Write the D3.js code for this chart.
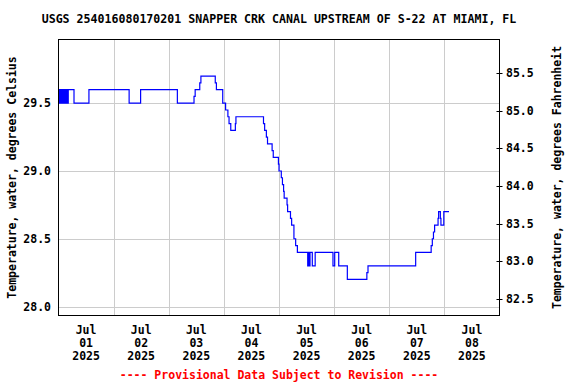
<!DOCTYPE html>
<html>
<head>
<meta charset="utf-8">
<script src="https://cdn.jsdelivr.net/npm/d3@7"></script>
<style>
  html, body { margin: 0; padding: 0; background: #ffffff; }
  svg { display: block; }
  text { font-family: "DejaVu Sans Mono", monospace; font-weight: bold; }
</style>
</head>
<body>
<svg id="chart" width="576" height="384"></svg>
<script>
// ---- Data ----
const titleText = "USGS 254016080170201 SNAPPER CRK CANAL UPSTREAM OF S-22 AT MIAMI, FL";
const leftAxisTitle = "Temperature, water, degrees Celsius";
const rightAxisTitle = "Temperature, water, degrees Fahrenheit";
const footerText = "---- Provisional Data Subject to Revision ----";

const dayLabels = ["2025-07-01", "2025-07-02", "2025-07-03", "2025-07-04",
                   "2025-07-05", "2025-07-06", "2025-07-07", "2025-07-08"];
const celsiusTicks = [28.0, 28.5, 29.0, 29.5];
const fahrenheitTicks = [82.5, 83.0, 83.5, 84.0, 84.5, 85.0, 85.5];

const times = [
  "2025-07-01 00:00","2025-07-01 00:15","2025-07-01 00:30","2025-07-01 01:00","2025-07-01 01:15",
  "2025-07-01 01:45","2025-07-01 02:00","2025-07-01 02:15","2025-07-01 02:30","2025-07-01 02:45",
  "2025-07-01 03:00","2025-07-01 03:15","2025-07-01 03:30","2025-07-01 03:45","2025-07-01 04:00",
  "2025-07-01 04:15","2025-07-01 06:45","2025-07-01 13:15","2025-07-02 06:45","2025-07-02 11:45",
  "2025-07-03 03:45","2025-07-03 11:00","2025-07-03 11:30","2025-07-03 13:30","2025-07-03 14:00",
  "2025-07-03 20:15","2025-07-03 20:45","2025-07-03 23:30","2025-07-04 00:45","2025-07-04 01:45",
  "2025-07-04 02:15","2025-07-04 03:00","2025-07-04 05:00","2025-07-04 05:15","2025-07-04 17:15",
  "2025-07-04 17:45","2025-07-04 18:30","2025-07-04 19:00","2025-07-04 21:00","2025-07-04 21:30",
  "2025-07-04 23:45","2025-07-05 00:00","2025-07-05 01:00","2025-07-05 01:30","2025-07-05 02:00",
  "2025-07-05 02:15","2025-07-05 03:30","2025-07-05 03:45","2025-07-05 05:00","2025-07-05 05:30",
  "2025-07-05 06:30","2025-07-05 07:15","2025-07-05 08:00","2025-07-05 12:30","2025-07-05 12:45",
  "2025-07-05 13:00","2025-07-05 13:30","2025-07-05 14:30","2025-07-05 15:45","2025-07-05 23:30",
  "2025-07-06 00:15","2025-07-06 02:00","2025-07-06 05:45","2025-07-06 14:15","2025-07-06 14:45",
  "2025-07-07 11:30","2025-07-07 18:15","2025-07-07 18:45","2025-07-07 19:15","2025-07-07 19:45",
  "2025-07-07 21:15","2025-07-07 21:30","2025-07-07 22:15","2025-07-07 22:30","2025-07-07 23:45",
  "2025-07-08 02:00"
];
const tempC = [
  29.5, 29.6, 29.5, 29.6, 29.5,
  29.6, 29.5, 29.6, 29.5, 29.6,
  29.5, 29.6, 29.5, 29.6, 29.5,
  29.6, 29.5, 29.6, 29.5, 29.6,
  29.5, 29.55, 29.6, 29.65, 29.7,
  29.65, 29.6, 29.5, 29.45, 29.4,
  29.35, 29.3, 29.35, 29.4, 29.35,
  29.3, 29.25, 29.2, 29.15, 29.1,
  29.05, 29.0, 28.95, 28.9, 28.85,
  28.8, 28.75, 28.7, 28.65, 28.6,
  28.5, 28.45, 28.4, 28.3, 28.4,
  28.3, 28.4, 28.3, 28.4, 28.3,
  28.4, 28.3, 28.2, 28.25, 28.3,
  28.4, 28.45, 28.5, 28.55, 28.6,
  28.65, 28.7, 28.65, 28.6, 28.7,
  28.7
];

const xDomainStart = "2025-07-01 00:00";
const xDomainEnd = "2025-07-09 00:00";
const yDomainC = [27.934, 29.97];

// ---- Drawing ----
const parseT = d3.timeParse("%Y-%m-%d %H:%M");
const parseD = d3.timeParse("%Y-%m-%d");
const fmtMon = d3.timeFormat("%b");
const fmtDay = d3.timeFormat("%d");
const fmtYear = d3.timeFormat("%Y");

const plot = { left: 58.5, right: 499.5, top: 39.5, bottom: 315.5 };
const svg = d3.select("#chart");

const x = d3.scaleTime()
  .domain([parseT(xDomainStart), parseT(xDomainEnd)])
  .range([plot.left, plot.right]);
const y = d3.scaleLinear().domain(yDomainC).range([plot.bottom, plot.top]);
const yF = d3.scaleLinear()
  .domain(yDomainC.map(c => c * 9 / 5 + 32))
  .range([plot.bottom, plot.top]);

const data = times.map((t, i) => ({ t: parseT(t), v: tempC[i] }));

// Grid lines
const gridDays = d3.timeDay.range(d3.timeDay.offset(x.domain()[0], 1), x.domain()[1]);
svg.append("g").selectAll("line").data(gridDays).join("line")
  .attr("x1", d => Math.round(x(d)) + 0.5).attr("x2", d => Math.round(x(d)) + 0.5)
  .attr("y1", plot.top).attr("y2", plot.bottom)
  .attr("stroke", "#cccccc").attr("stroke-width", 1);
svg.append("g").selectAll("line").data(celsiusTicks).join("line")
  .attr("x1", plot.left).attr("x2", plot.right)
  .attr("y1", d => Math.round(y(d)) + 0.5).attr("y2", d => Math.round(y(d)) + 0.5)
  .attr("stroke", "#cccccc").attr("stroke-width", 1);

// Data line
svg.append("clipPath").attr("id", "clip").append("rect")
  .attr("x", plot.left).attr("y", plot.top)
  .attr("width", plot.right - plot.left).attr("height", plot.bottom - plot.top);
const line = d3.line().x(d => x(d.t)).y(d => y(d.v)).curve(d3.curveStepAfter);
svg.append("path").datum(data)
  .attr("clip-path", "url(#clip)")
  .attr("d", line)
  .attr("fill", "none").attr("stroke", "#0000ff").attr("stroke-width", 1.2);

// Frame
svg.append("rect")
  .attr("x", plot.left).attr("y", plot.top)
  .attr("width", plot.right - plot.left).attr("height", plot.bottom - plot.top)
  .attr("fill", "none").attr("stroke", "#000000").attr("stroke-width", 1);

const fs = "11.5px";

// Left axis labels
svg.append("g").selectAll("text").data(celsiusTicks).join("text")
  .attr("x", 51).attr("y", d => y(d)).attr("dy", "0.35em")
  .attr("text-anchor", "end").attr("font-size", fs)
  .text(d => d3.format(".1f")(d));

// Right axis ticks and labels
svg.append("g").selectAll("line").data(fahrenheitTicks).join("line")
  .attr("x1", plot.right - 3).attr("x2", plot.right + 3)
  .attr("y1", d => Math.round(yF(d)) + 0.5).attr("y2", d => Math.round(yF(d)) + 0.5)
  .attr("stroke", "#000000").attr("stroke-width", 1);
svg.append("g").selectAll("text").data(fahrenheitTicks).join("text")
  .attr("x", 506).attr("y", d => yF(d)).attr("dy", "0.35em")
  .attr("text-anchor", "start").attr("font-size", fs)
  .text(d => d3.format(".1f")(d));

// X axis labels (centered on each day)
const xl = svg.append("g").selectAll("text").data(dayLabels.map(parseD)).join("text")
  .attr("text-anchor", "middle").attr("font-size", fs);
xl.each(function(d) {
  const cx = x(d3.timeHour.offset(d, 12));
  const t = d3.select(this);
  t.append("tspan").attr("x", cx).attr("y", 334).text(fmtMon(d));
  t.append("tspan").attr("x", cx).attr("y", 347).text(fmtDay(d));
  t.append("tspan").attr("x", cx).attr("y", 360).text(fmtYear(d));
});

const midY = (plot.top + plot.bottom) / 2;
const midX = (plot.left + plot.right) / 2;

// Title
svg.append("text").attr("x", midX).attr("y", 23)
  .attr("text-anchor", "middle").attr("font-size", "11.6px").text(titleText);

// Axis titles
svg.append("text").attr("transform", `translate(16,${midY}) rotate(-90)`)
  .attr("text-anchor", "middle").attr("font-size", fs).text(leftAxisTitle);
svg.append("text").attr("transform", `translate(561,${midY}) rotate(-90)`)
  .attr("text-anchor", "middle").attr("font-size", fs).text(rightAxisTitle);

// Footer
svg.append("text").attr("x", midX).attr("y", 379)
  .attr("text-anchor", "middle").attr("font-size", fs)
  .attr("fill", "#ff0000").text(footerText);
</script>
</body>
</html>
